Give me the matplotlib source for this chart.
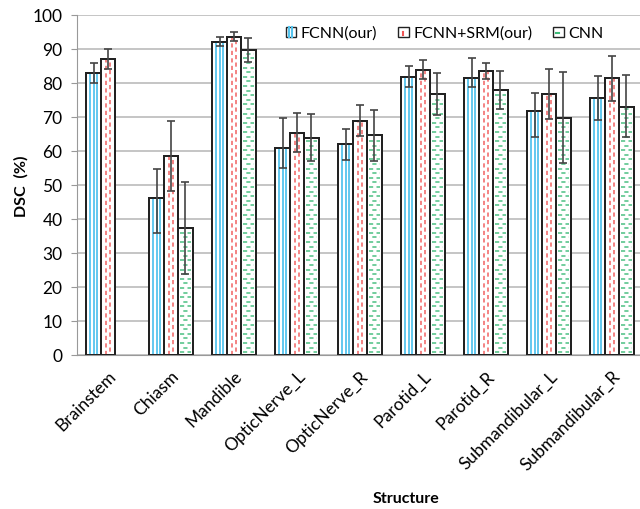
import numpy as np
import matplotlib
matplotlib.use("Agg")
from matplotlib import pyplot as plt
from matplotlib.patches import Rectangle
from matplotlib.legend_handler import HandlerBase

plt.rcParams['font.family'] = ['Lato', 'DejaVu Sans']

structures = ["Brainstem", "Chiasm", "Mandible", "OpticNerve_L", "OpticNerve_R",
              "Parotid_L", "Parotid_R", "Submandibular_L", "Submandibular_R"]

# mean DSC and lower / upper ends of the error bars
fcnn = [82.9, 46.2, 92.2, 60.8, 62.1, 81.8, 81.4, 71.9, 75.5]
fcnn_lo = [80.0, 35.9, 91.0, 54.9, 57.4, 78.8, 78.9, 64.2, 69.1]
fcnn_hi = [85.8, 54.7, 93.4, 69.7, 66.6, 85.1, 87.3, 77.2, 82.2]

srm = [87.1, 58.4, 93.6, 65.4, 68.9, 83.9, 83.5, 76.8, 81.4]
srm_lo = [84.1, 48.1, 92.3, 59.6, 64.3, 81.2, 81.2, 69.4, 74.8]
srm_hi = [90.0, 68.7, 94.9, 71.1, 73.6, 86.8, 85.9, 84.1, 87.9]

cnn = [np.nan, 37.4, 89.7, 63.9, 64.6, 76.7, 78.0, 69.8, 73.0]
cnn_lo = [np.nan, 23.9, 86.1, 57.1, 57.1, 70.5, 72.5, 56.5, 64.2]
cnn_hi = [np.nan, 50.9, 93.2, 70.9, 72.1, 82.8, 83.4, 83.2, 82.4]

BLUE = "#55c4ee"
RED = "#f05555"
GREEN = "#3dbb78"


def fill_pattern(ax, kind, x0, w, h, dy):
    # hand-drawn hatching inside one bar (x0, w in data units, h = bar height)
    if kind == "blue":
        for f in (0.25, 0.5, 0.75):
            ax.vlines(x0 + f * w, 0, h, color=BLUE, lw=1.3, zorder=2)
    elif kind == "red":
        for f, off in ((0.33, 0), (0.67, 2.5)):
            ax.vlines(x0 + f * w, 0, h, color=RED, lw=1.2, alpha=0.85,
                      linestyles=[(off, (2.5, 2.0))], zorder=2)
    else:
        ys = np.arange(dy * 0.6, h - dy * 0.3, dy)
        for k, y in enumerate(ys):
            ax.hlines(y, x0 + 0.12 * w, x0 + 0.88 * w, color=GREEN, lw=1.2, alpha=0.85,
                      linestyles=[((k % 2) * 2.5, (2.5, 2.0))], zorder=2)


class PatternHandler(HandlerBase):
    def create_artists(self, legend, orig, xd, yd, width, height, fontsize, trans):
        s = min(width, height)
        arts = [Rectangle((xd, yd), s, s, facecolor="white", edgecolor="#222222",
                          lw=1.0, transform=trans)]
        kind = orig.get_gid()
        if kind == "blue":
            for f in (0.3, 0.6):
                arts.append(plt.Line2D([xd + f * s] * 2, [yd, yd + s], color=BLUE, lw=1.5,
                                       transform=trans))
        elif kind == "red":
            arts.append(plt.Line2D([xd + 0.5 * s] * 2, [yd + 0.2 * s, yd + 0.5 * s],
                                   color=RED, lw=1.5, transform=trans))
        else:
            arts.append(plt.Line2D([xd + 0.25 * s, xd + 0.6 * s], [yd + 0.4 * s] * 2,
                                   color=GREEN, lw=1.5, transform=trans))
        return arts


series = [
    ("FCNN(our)", fcnn, fcnn_lo, fcnn_hi, "blue"),
    ("FCNN+SRM(our)", srm, srm_lo, srm_hi, "red"),
    ("CNN", cnn, cnn_lo, cnn_hi, "green"),
]

fig = plt.figure(figsize=(6.4, 5.1), dpi=100)
ax = fig.add_axes([76.5 / 640, 1 - 356 / 510, 567 / 640, 340 / 510])
ax.set_xlim(-0.5, len(structures) - 0.5)
ax.set_ylim(0, 100)

x = np.arange(len(structures))
w = 0.23
handles = []
for i, (name, vals, lo, hi, kind) in enumerate(series):
    pos = x + (i - 1) * w
    vals = np.array(vals)
    err = [vals - np.array(lo), np.array(hi) - vals]
    bars = ax.bar(pos, vals, w, color="white", edgecolor="#222222", linewidth=1.4, zorder=1.5)
    for b in bars:
        if np.isfinite(b.get_height()):
            fill_pattern(ax, kind, b.get_x(), b.get_width(), b.get_height(), 1.35)
    ax.bar(pos, vals, w, fill=False, edgecolor="#222222", linewidth=1.4, zorder=3)
    ax.errorbar(pos, vals, yerr=err, fmt="none", ecolor="#444444", elinewidth=1.2,
                capsize=3, capthick=1.2, zorder=4)
    h = Rectangle((0, 0), 1, 1, label=name)
    h.set_gid(kind)
    handles.append(h)

ax.set_yticks(range(0, 101, 10))
ax.set_xticks(x)
ax.set_xticklabels(structures, rotation=45, ha="right", rotation_mode="anchor", fontsize=12.5)
ax.tick_params(axis="y", labelsize=12.5, length=4, color="#999999", pad=6)
ax.tick_params(axis="x", length=0, pad=9)
ax.yaxis.grid(True, color="#bbbbbb", linewidth=1.2)
ax.set_axisbelow(True)
for s in ["top", "right"]:
    ax.spines[s].set_visible(False)
ax.spines["left"].set_color("#999999")
ax.spines["bottom"].set_color("#999999")

ax.set_ylabel("DSC  (%)", fontsize=11.5, fontweight="bold", labelpad=3)
ax.set_xlabel("Structure", fontsize=11.5, fontweight="bold")
ax.xaxis.set_label_coords((406 - 76.5) / 567, -0.40)

ax.legend(handles=handles, handler_map={Rectangle: PatternHandler()}, ncol=3,
          frameon=False, loc="upper right", bbox_to_anchor=(0.955, 1.012),
          fontsize=11.5, handlelength=0.65, handleheight=0.65, handletextpad=0.3,
          columnspacing=1.3)

fig.savefig("out.png", dpi=100)
